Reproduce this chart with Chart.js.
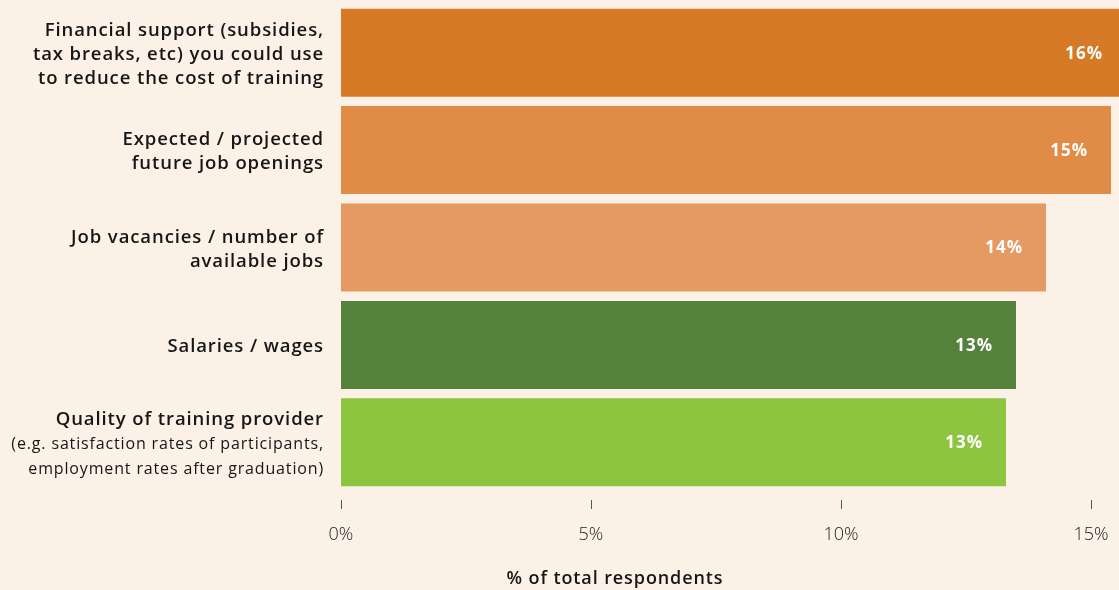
<!DOCTYPE html>
<html>
<head>
<meta charset="utf-8">
<script src="https://cdn.jsdelivr.net/npm/chart.js@4"></script>
<style>
  html, body { margin: 0; padding: 0; background: #FBF1E7; }
  #wrap { width: 1119px; height: 590px; position: relative; }
</style>
</head>
<body>
<div id="wrap"><canvas id="chart"></canvas></div>
<script>
// data
var categories = [
    ['Financial support (subsidies,', 'tax breaks, etc) you could use', 'to reduce the cost of training'],
    ['Expected / projected', 'future job openings'],
    ['Job vacancies / number of', 'available jobs'],
    ['Salaries / wages'],
    ['Quality of training provider']
];
var categoryNotes = [
    [],
    [],
    [],
    [],
    ['(e.g. satisfaction rates of participants,', 'employment rates after graduation)']
];
var values = [15.7, 15.4, 14.1, 13.5, 13.3];
var valueLabels = ['16%', '15%', '14%', '13%', '13%'];
var tickValues = [0, 5, 10, 15];
var axisTitle = '% of total respondents';

var barColors = ['#D67A28', '#E08C47', '#E59A61', '#55823B', '#8DC540'];
var FONT = '"Open Sans", sans-serif';

// y labels, value labels, tick marks and axis title
var annotate = {
    id: 'annotate',
    afterDatasetsDraw: function (chart) {
        var ctx = chart.ctx;
        var xs = chart.scales.x;
        var ys = chart.scales.y;
        var area = chart.chartArea;
        var meta = chart.getDatasetMeta(0);

        ctx.save();

        // value labels inside bars
        ctx.fillStyle = '#ffffff';
        ctx.font = '700 17px ' + FONT;
        ctx.letterSpacing = '1px';
        ctx.textAlign = 'right';
        ctx.textBaseline = 'middle';
        meta.data.forEach(function (bar, i) {
            ctx.fillText(valueLabels[i], bar.x - 23, bar.y + 1);
        });

        // category labels
        ctx.fillStyle = '#161616';
        categories.forEach(function (lines, i) {
            var y = ys.getPixelForValue(i) + 2;
            var notes = categoryNotes[i];
            var all = lines.length + notes.length;
            var lh = notes.length ? 25 : 24;
            var top = y - (all - 1) * lh / 2;
            var k = 0;
            lines.forEach(function (t) {
                ctx.font = '600 18.5px ' + FONT;
                ctx.letterSpacing = '0.9px';
                ctx.fillText(t, 324, top + k * lh);
                k++;
            });
            notes.forEach(function (t) {
                ctx.font = '400 16px ' + FONT;
                ctx.letterSpacing = '0.85px';
                ctx.fillText(t, 324, top + k * lh);
                k++;
            });
        });

        // tick marks
        ctx.strokeStyle = '#555555';
        ctx.lineWidth = 1;
        tickValues.forEach(function (v) {
            var x = Math.round(xs.getPixelForValue(v)) + 0.5;
            ctx.beginPath();
            ctx.moveTo(x, area.bottom + 9);
            ctx.lineTo(x, area.bottom + 18);
            ctx.stroke();
        });

        // axis title
        ctx.fillStyle = '#161616';
        ctx.font = '600 18px ' + FONT;
        ctx.letterSpacing = '0.9px';
        ctx.textAlign = 'center';
        ctx.fillText(axisTitle, 615, 579);

        ctx.restore();
    }
};

var myChart = new Chart(document.getElementById('chart'), {
    type: 'bar',
    data: {
        labels: categories.map(function (c) { return c.join(' '); }),
        datasets: [{
            data: values,
            backgroundColor: barColors,
            borderWidth: 0,
            barPercentage: 0.904,
            categoryPercentage: 1
        }]
    },
    options: {
        indexAxis: 'y',
        responsive: true,
        maintainAspectRatio: false,
        animation: false,
        layout: { padding: { top: 4, right: 0, left: 0, bottom: 0 } },
        plugins: {
            legend: { display: false },
            tooltip: { enabled: false }
        },
        scales: {
            x: {
                min: 0,
                max: 15.56,
                grid: { display: false, drawTicks: false },
                border: { display: false },
                afterBuildTicks: function (scale) {
                    scale.ticks = tickValues.map(function (v) { return { value: v }; });
                },
                afterFit: function (scale) {
                    scale.height = 99;
                    scale.paddingRight = 0;
                    scale.paddingLeft = 0;
                },
                ticks: {
                    padding: 33,
                    color: '#222222',
                    font: { family: FONT, size: 18, weight: '300' },
                    callback: function (v) { return v + '%'; }
                }
            },
            y: {
                grid: { display: false },
                border: { display: false },
                ticks: { display: false },
                afterFit: function (scale) { scale.width = 341; }
            }
        }
    },
    plugins: [annotate]
});
</script>
</body>
</html>
